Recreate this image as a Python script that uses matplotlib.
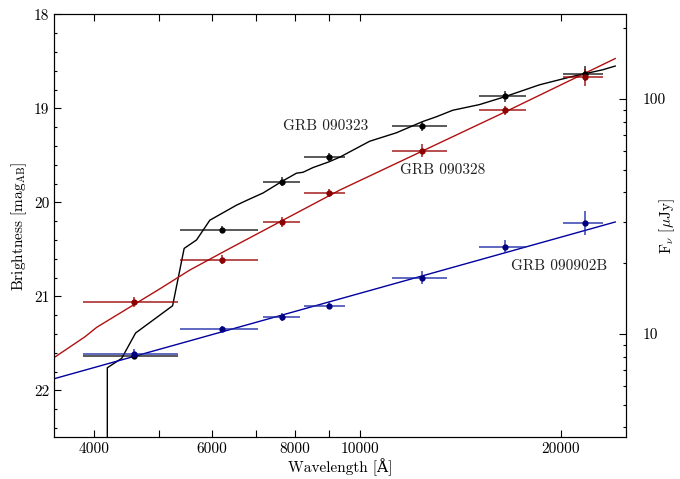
import matplotlib
matplotlib.use('Agg')
import matplotlib.pyplot as plt
import matplotlib.ticker as ticker
import numpy as np

plt.rcParams['font.family'] = ['cmr10', 'DejaVu Serif']
plt.rcParams['mathtext.fontset'] = 'cm'
plt.rcParams['axes.formatter.use_mathtext'] = True

# GROND filter central wavelengths and bandwidths (Angstrom)
filters = ['g', 'r', 'i', 'z', 'J', 'H', 'K']
wave = np.array([4587, 6220, 7641, 8989, 12399, 16468, 21706])
wave_lo = np.array([3847, 5378, 7165, 8245, 11184, 15064, 20114])
wave_hi = np.array([5336, 7040, 8129, 9493, 13513, 17737, 23083])

# AB magnitudes and errors
mag_090323 = np.array([21.63, 20.29, 19.78, 19.52, 19.19, 18.87, 18.63])
err_090323 = np.array([0.04, 0.04, 0.05, 0.04, 0.05, 0.06, 0.08])
mag_090328 = np.array([21.06, 20.61, 20.21, 19.90, 19.45, 19.02, 18.67])
err_090328 = np.array([0.05, 0.05, 0.05, 0.04, 0.07, 0.05, 0.09])
mag_090902B = np.array([21.61, 21.35, 21.22, 21.10, 20.80, 20.47, 20.22])
err_090902B = np.array([0.05, 0.03, 0.04, 0.04, 0.07, 0.07, 0.13])

# model spectra
model_323_wave = [4188, 4188, 4400, 4617, 5245, 5458, 5696, 5963, 6537, 6766, 7165, 7634,
                  8036, 8222, 8509, 8982, 9328, 10344, 11341, 12424, 13012, 13777,
                  15103, 16423, 18566, 20819, 23083, 24114]
model_323_mag = [22.6, 21.76, 21.66, 21.39, 21.10, 20.49, 20.40, 20.19, 20.03, 19.98, 19.90, 19.78,
                 19.69, 19.68, 19.63, 19.57, 19.52, 19.35, 19.26, 19.14, 19.09, 19.02,
                 18.96, 18.88, 18.75, 18.66, 18.59, 18.55]
model_328_wave = [3489, 3878, 4037, 5020, 5566, 6388, 9328, 16367, 24114]
model_328_mag = [21.65, 21.43, 21.33, 20.92, 20.72, 20.49, 19.87, 19.05, 18.47]
model_902_wave = [3489, 24114]
model_902_mag = [21.876, 20.209]

xerr = [wave - wave_lo, wave_hi - wave]

fig = plt.figure(figsize=(6.8, 4.79), dpi=100)
ax = fig.add_axes([0.0799, 0.087, 0.8402, 0.883])

# GRB 090323
ax.plot(model_323_wave, model_323_mag, color='black', lw=1.0, zorder=2)
ax.errorbar(wave, mag_090323, yerr=err_090323, xerr=xerr, fmt='o', ms=3.5,
            color='black', ecolor=(0.0, 0.0, 0.0, 0.7), elinewidth=1.3, capsize=0, zorder=3)

# GRB 090328
ax.plot(model_328_wave, model_328_mag, color='#b01010', lw=1.0, zorder=2)
ax.errorbar(wave, mag_090328, yerr=err_090328, xerr=xerr, fmt='o', ms=3.5,
            color='#8b0000', ecolor=(0.6, 0.0, 0.0, 0.75), elinewidth=1.3, capsize=0, zorder=3)

# GRB 090902B
ax.plot(model_902_wave, model_902_mag, color='#0000a0', lw=1.0, zorder=2)
ax.errorbar(wave, mag_090902B, yerr=err_090902B, xerr=xerr, fmt='o', ms=3.5,
            color='#000080', ecolor=(0.1, 0.15, 0.65, 0.75), elinewidth=1.3, capsize=0, zorder=3)

ax.text(7675, 19.19, 'GRB 090323', fontsize=11, va='center', ha='left', color='#222222')
ax.text(11469, 19.66, 'GRB 090328', fontsize=11, va='center', ha='left', color='#222222')
ax.text(16845, 20.68, 'GRB 090902B', fontsize=11, va='center', ha='left', color='#222222')

ax.set_xscale('log')
ax.set_xlim(3489, 25000)
ax.set_ylim(22.5, 18)

xticks = [4000, 5000, 6000, 7000, 8000, 9000, 10000, 20000]
xlabels = ['4000', '', '6000', '', '8000', '', '10000', '20000']
ax.xaxis.set_major_locator(ticker.FixedLocator(xticks))
ax.xaxis.set_major_formatter(ticker.FixedFormatter(xlabels))
ax.xaxis.set_minor_locator(ticker.NullLocator())
ax.yaxis.set_major_locator(ticker.MultipleLocator(1))
ax.yaxis.set_minor_locator(ticker.MultipleLocator(0.2))
ax.yaxis.set_major_formatter(ticker.FormatStrFormatter('%d'))

ax.tick_params(which='both', direction='in', top=True, right=False, labelsize=11)
ax.tick_params(which='major', length=5, width=0.8)
ax.tick_params(which='minor', length=2.5, width=0.8)

ax.set_xlabel('Wavelength [Å]', fontsize=11, labelpad=2)
ax.set_ylabel(r'Brightness [mag$_{\rm AB}$]', fontsize=11, labelpad=4)

# flux density axis (AB: 23.9 mag = 1 microJy)
ax2 = ax.twinx()
ax2.set_yscale('log')
ax2.set_ylim(10 ** ((23.9 - 22.5) / 2.5), 10 ** ((23.9 - 18) / 2.5))
ax2.yaxis.set_major_formatter(ticker.FormatStrFormatter('%d'))
ax2.yaxis.set_minor_formatter(ticker.NullFormatter())
ax2.tick_params(which='both', direction='in', labelsize=11)
ax2.tick_params(which='major', length=5, width=0.8, pad=12)
ax2.tick_params(which='minor', length=2.5, width=0.8)
ax2.set_ylabel(r'F$_{\nu}$ [$\mu$Jy]', fontsize=11)
ax2.yaxis.set_label_coords(1.055, 0.5)

fig.savefig('out.png', dpi=100)
